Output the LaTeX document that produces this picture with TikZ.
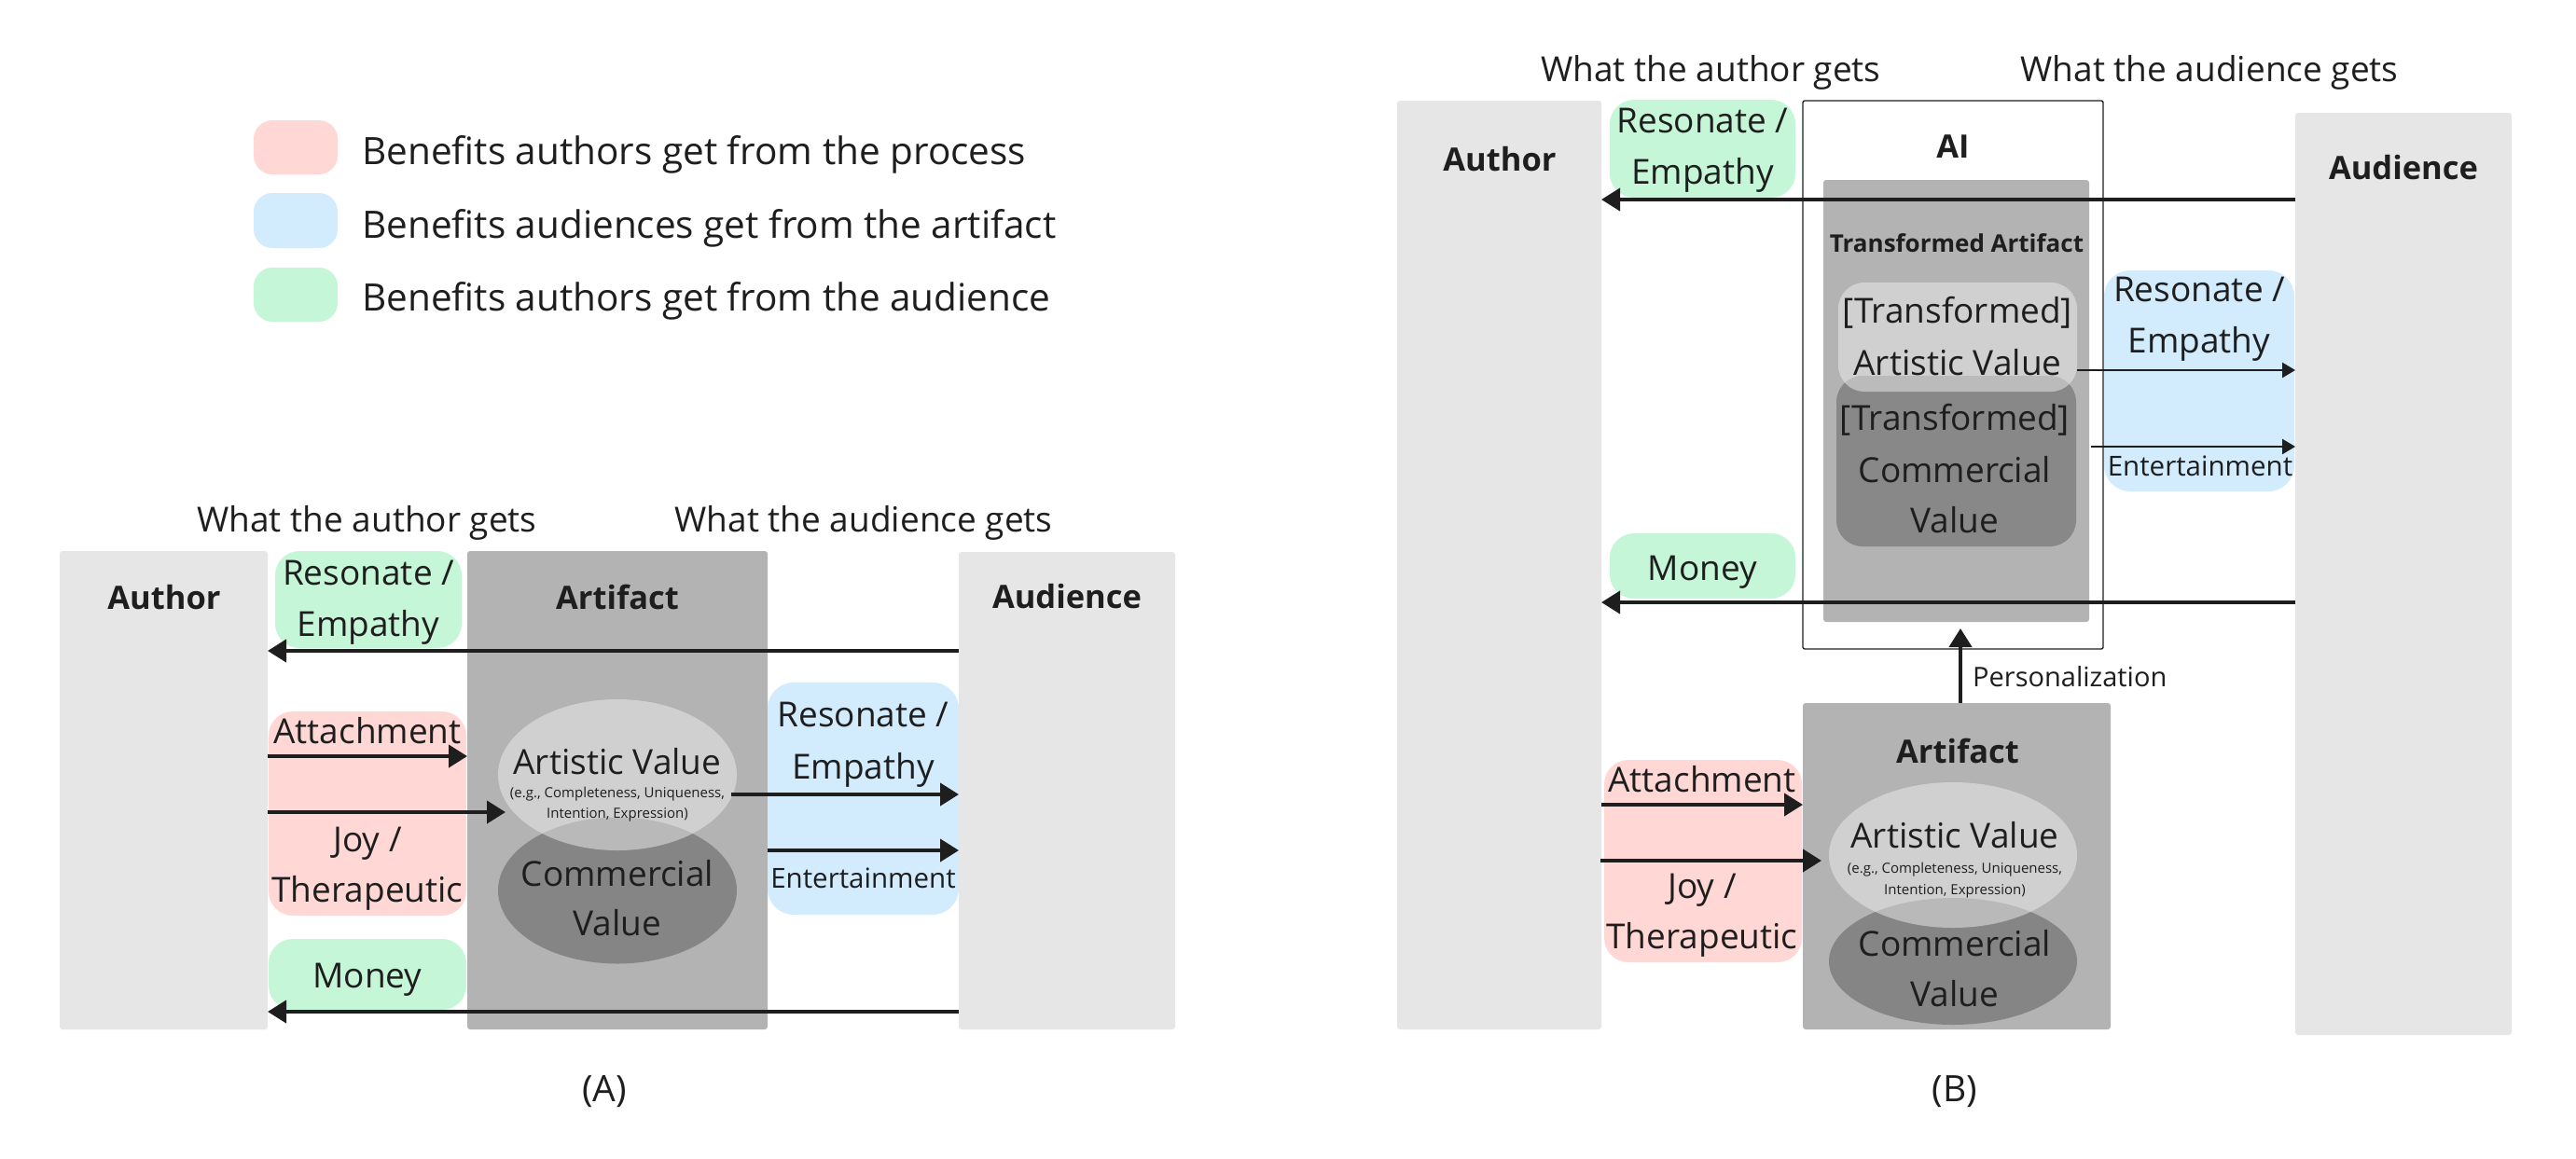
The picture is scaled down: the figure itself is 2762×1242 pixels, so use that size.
\documentclass[tikz,border=0pt]{standalone}
\usepackage{fontspec}
\setmainfont{Open Sans}
\usetikzlibrary{arrows.meta,shapes.geometric}
\definecolor{pinkc}{RGB}{255,216,214}
\definecolor{bluec}{RGB}{210,235,253}
\definecolor{greenc}{RGB}{198,246,216}
\definecolor{panelc}{RGB}{230,230,230}
\definecolor{artc}{RGB}{179,179,179}
\definecolor{comc}{RGB}{133,133,133}
\definecolor{tcomc}{RGB}{136,136,136}
\definecolor{lightc}{RGB}{238,238,238}
\definecolor{inkc}{RGB}{30,30,30}
\tikzset{
  shp/.style={inner sep=0pt, outer sep=0pt, draw=none},
  panelbox/.style={shp, fill=panelc, rounded corners=3pt},
  artbox/.style={shp, fill=artc, rounded corners=3pt},
  pinkbox/.style={shp, fill=pinkc, rounded corners=26pt},
  bluebox/.style={shp, fill=bluec, rounded corners=28pt},
  greenbox/.style={shp, fill=greenc, rounded corners=26pt},
  swatch/.style={shp, rounded corners=20pt, minimum width=90pt, minimum height=58pt},
  aibox/.style={shp, draw=inkc, line width=1.3pt, fill=white, rounded corners=2pt},
  lightval/.style={shp, fill=lightc, fill opacity=0.5},
  darkval/.style={shp, fill=comc},
  lbl/.style={text=inkc, inner sep=0pt, anchor=base, font=\fontsize{37}{44}\selectfont},
  legtxt/.style={text=inkc, inner sep=0pt, anchor=base west, font=\fontsize{40.5}{48}\selectfont},
  hdr/.style={text=inkc, inner sep=0pt, anchor=base, font=\fontsize{37}{44}\selectfont},
  ttl/.style={text=inkc, inner sep=0pt, anchor=base, font=\bfseries\fontsize{34.5}{42}\selectfont},
  smalltxt/.style={text=inkc, inner sep=0pt, anchor=base, font=\fontsize{15}{18}\selectfont},
  midtxt/.style={text=inkc, inner sep=0pt, anchor=base, font=\fontsize{29.5}{35}\selectfont},
  arr/.style={draw=inkc, line width=4pt, -{Triangle[length=20pt,width=24pt]}},
  thinarr/.style={draw=inkc, line width=2.5pt, -{Triangle[length=14pt,width=16pt]}},
}
\begin{document}
\begin{tikzpicture}[x=1pt,y=-1pt]
\useasboundingbox (0,0) rectangle (2762,1242);
\fill[white] (0,0) rectangle (2762,1242);

% ---------------- Legend ----------------
\node[swatch, fill=pinkc] (swP) at (317,158) {};
\node[swatch, fill=bluec, minimum height=59pt] (swB) at (317,236.5) {};
\node[swatch, fill=greenc] (swG) at (317,316) {};
\node[legtxt] (lgP) at (388,176) {Benefits authors get from the process};
\node[legtxt] (lgB) at (388,255) {Benefits audiences get from the artifact};
\node[legtxt] (lgG) at (388,333) {Benefits authors get from the audience};

% ---------------- Panel A ----------------
\node[panelbox, minimum width=223pt, minimum height=513pt] (authA) at (175.5,847.5) {};
\node[artbox, minimum width=322pt, minimum height=513pt] (artA) at (662,847.5) {};
\node[panelbox, minimum width=232pt, minimum height=512pt] (audA) at (1144,848) {};
\node[greenbox, minimum width=200pt, minimum height=104pt] (grA1) at (395,643) {};
\node[pinkbox, minimum width=212pt, minimum height=219pt] (pkA) at (394,872.5) {};
\node[greenbox, minimum width=212pt, minimum height=76pt] (grA2) at (394,1045) {};
\node[bluebox, minimum width=205pt, minimum height=249pt] (blA) at (925.5,856.5) {};
\node[ellipse, darkval, minimum width=256pt, minimum height=157pt] (cvA) at (662,955) {};
\node[ellipse, lightval, minimum width=256pt, minimum height=162pt] (avA) at (662,831) {};

\node[hdr] (hA1) at (393.5,570) {What the author gets};
\node[hdr] (hA2) at (926,570) {What the audience gets};
\node[ttl] (tAuthA) at (176,653) {Author};
\node[ttl] (tArtA) at (662,653) {Artifact};
\node[ttl] (tAudA) at (1144,652) {Audience};
\node[lbl] (gA1a) at (395,627) {Resonate /};
\node[lbl] (gA1b) at (395,682) {Empathy};
\node[lbl] (pA1) at (394,797) {Attachment};
\node[lbl] (pA2) at (394,913) {Joy /};
\node[lbl] (pA3) at (394,967) {Therapeutic};
\node[lbl] (gA2) at (394,1059) {Money};
\node[lbl] (avA1) at (662,830) {Artistic Value};
\node[smalltxt] (avA2) at (662,855) {(e.g., Completeness, Uniqueness,};
\node[smalltxt] (avA3) at (662,877) {Intention, Expression)};
\node[lbl] (cvA1) at (662,950) {Commercial};
\node[lbl] (cvA2) at (662,1003) {Value};
\node[lbl] (bA1) at (925.5,779.5) {Resonate /};
\node[lbl] (bA2) at (925.5,835) {Empathy};
\node[midtxt] (bA3) at (925.5,952) {Entertainment};
\node[hdr, font=\fontsize{39}{46}\selectfont] (capA) at (648,1181) {(A)};

\coordinate (yA1) at (0,698);
\coordinate (yA2) at (0,811);
\coordinate (yA3) at (0,871);
\coordinate (yA4) at (0,852);
\coordinate (yA5) at (0,912);
\coordinate (yA6) at (0,1085);
\draw[arr] (audA.west |- yA1) -- (authA.east |- yA1);
\draw[arr] (authA.east |- yA2) -- (artA.west |- yA2);
\draw[arr] (authA.east |- yA3) -- ([xshift=8pt]avA.west |- yA3);
\draw[arr] ([xshift=-6pt]avA.east |- yA4) -- (audA.west |- yA4);
\draw[arr] (artA.east |- yA5) -- (audA.west |- yA5);
\draw[arr] (audA.west |- yA6) -- (authA.east |- yA6);

% ---------------- Panel B ----------------
\node[panelbox, minimum width=219pt, minimum height=996pt] (authB) at (1607.5,606) {};
\node[panelbox, minimum width=232pt, minimum height=989pt] (audB) at (2577,615.5) {};
\node[aibox, minimum width=322pt, minimum height=588pt] (aiB) at (2094,402) {};
\node[artbox, minimum width=285pt, minimum height=474pt] (taB) at (2097.5,430) {};
\node[darkval, fill=tcomc, rounded corners=28pt, minimum width=257pt, minimum height=183pt] (tcB) at (2097.5,494.5) {};
\node[lightval, rounded corners=28pt, minimum width=256pt, minimum height=117pt] (tvB) at (2099,361.5) {};
\node[bluebox, minimum width=204pt, minimum height=237pt] (blB) at (2358,408.5) {};
\node[greenbox, minimum width=199pt, minimum height=105pt] (grB1) at (1825.5,159.5) {};
\node[greenbox, minimum width=199pt, minimum height=70pt] (grB2) at (1825.5,607) {};
\node[artbox, minimum width=330pt, minimum height=350pt] (artB) at (2098,929) {};
\node[pinkbox, minimum width=212pt, minimum height=217pt] (pkB) at (1826,923.5) {};
\node[ellipse, darkval, minimum width=266pt, minimum height=136pt] (cvB) at (2094,1031) {};
\node[ellipse, lightval, minimum width=266pt, minimum height=156pt] (avB) at (2094,917) {};

\node[hdr] (hB1) at (1834.5,87) {What the author gets};
\node[hdr] (hB2) at (2369,87) {What the audience gets};
\node[ttl] (tAuthB) at (1608,183) {Author};
\node[ttl] (tAI) at (2094,169) {AI};
\node[ttl] (tAudB) at (2577,192) {Audience};
\node[lbl] (gB1a) at (1825.5,142) {Resonate /};
\node[lbl] (gB1b) at (1825.5,197) {Empathy};
\node[text=inkc, inner sep=0pt, anchor=base, font=\bfseries\fontsize{26}{31}\selectfont] (tTA) at (2098,270) {Transformed Artifact};
\node[lbl] (tv1) at (2099,346) {[Transformed]};
\node[lbl] (tv2) at (2099,402) {Artistic Value};
\node[lbl] (tc1) at (2096,461) {[Transformed]};
\node[lbl] (tc2) at (2096,517) {Commercial};
\node[lbl] (tc3) at (2096,571) {Value};
\node[lbl] (bB1) at (2358,323) {Resonate /};
\node[lbl] (bB2) at (2358,378) {Empathy};
\node[midtxt] (bB3) at (2359,510) {Entertainment};
\node[lbl] (gB2) at (1825.5,622) {Money};
\node[midtxt, anchor=base west, font=\fontsize{29}{34}\selectfont] (pers) at (2115,736) {Personalization};
\node[ttl] (tArtB) at (2099,818) {Artifact};
\node[lbl] (pB1) at (1825,849) {Attachment};
\node[lbl] (pB2) at (1825,963) {Joy /};
\node[lbl] (pB3) at (1825,1017) {Therapeutic};
\node[lbl] (avB1) at (2096,909) {Artistic Value};
\node[smalltxt] (avB2) at (2096,936) {(e.g., Completeness, Uniqueness,};
\node[smalltxt] (avB3) at (2096,959) {Intention, Expression)};
\node[lbl] (cvB1) at (2096,1025) {Commercial};
\node[lbl] (cvB2) at (2096,1079) {Value};
\node[hdr, font=\fontsize{39}{46}\selectfont] (capB) at (2096,1181) {(B)};

\coordinate (yB1) at (0,214);
\coordinate (yB2) at (0,646);
\coordinate (yB3) at (0,397);
\coordinate (yB4) at (0,479);
\coordinate (yB5) at (0,863);
\coordinate (yB6) at (0,923);
\coordinate (xP) at (2102,0);
\draw[arr] (audB.west |- yB1) -- (authB.east |- yB1);
\draw[arr] (audB.west |- yB2) -- (authB.east |- yB2);
\draw[thinarr] (tvB.east |- yB3) -- (audB.west |- yB3);
\draw[thinarr] ([xshift=2pt]taB.east |- yB4) -- (audB.west |- yB4);
\draw[arr] (authB.east |- yB5) -- (artB.west |- yB5);
\draw[arr] ([xshift=-1pt]authB.east |- yB6) -- ([xshift=-8pt]avB.west |- yB6);
\draw[arr, shorten >=7pt] (xP |- artB.north) -- (xP |- taB.south);
\end{tikzpicture}
\end{document}
